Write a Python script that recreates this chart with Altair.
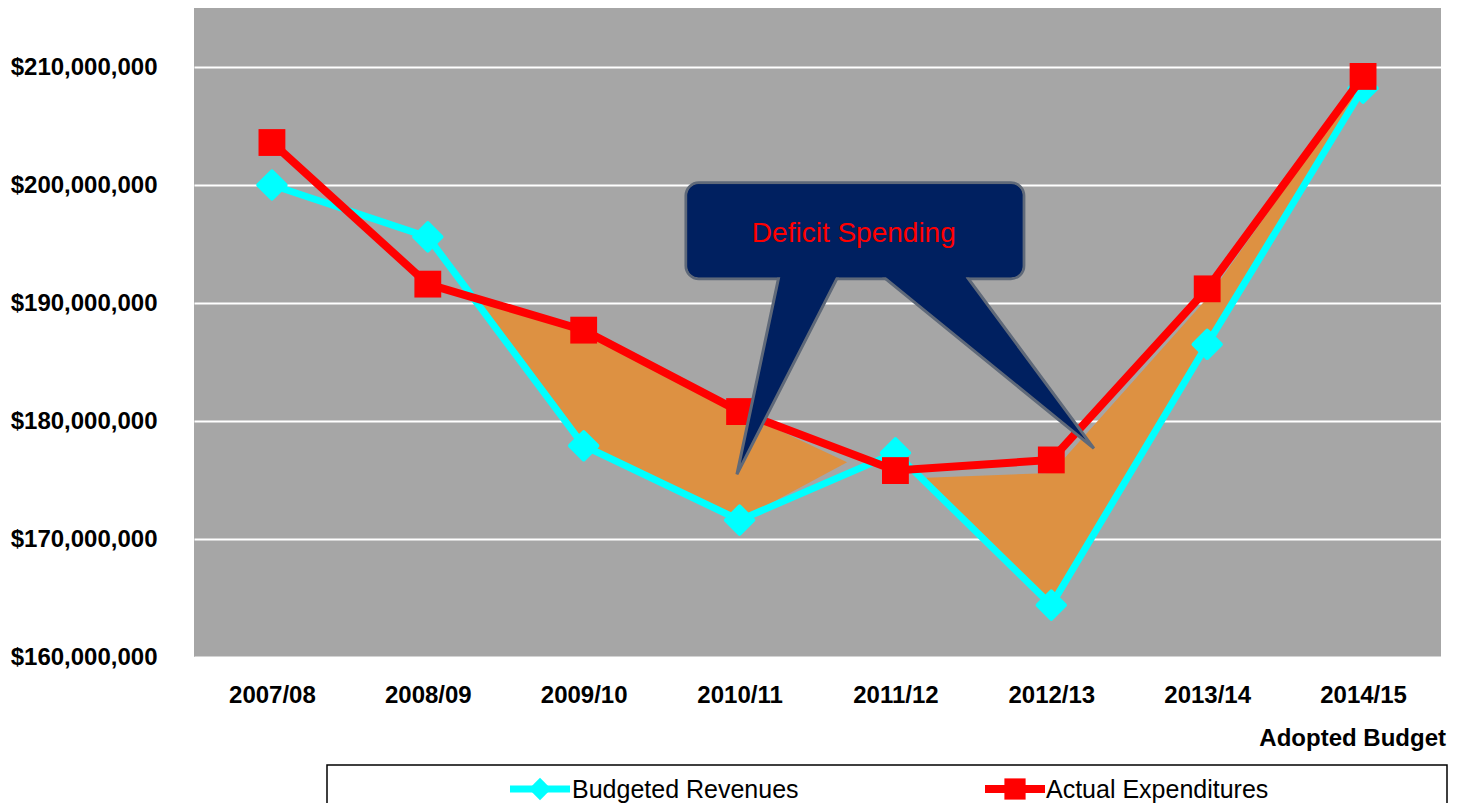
import altair as alt
import pandas as pd

# ---------------- data ($ millions) ----------------
years = ["2007/08", "2008/09", "2009/10", "2010/11", "2011/12", "2012/13", "2013/14", "2014/15"]
revenues = [200.0, 195.6, 177.9, 171.6, 177.3, 164.4, 186.5, 208.2]
expenditures = [203.6, 191.6, 187.7, 180.8, 175.8, 176.7, 191.2, 209.2]
y_ticks = [160, 170, 180, 190, 200, 210]

# deficit shading (two freeform regions between the lines)
def1_x = [1.29, 2.0, 3.0, 3.69]
def1_top = [190.47, 187.7, 180.8, 176.5]
def1_bot = [190.47, 177.9, 171.6, 176.5]
def2_x = [4.2, 5.0, 6.0, 7.0]
def2_top = [175.2, 175.6, 190.4, 209.0]
def2_bot = [174.6, 164.4, 186.5, 208.2]

# callout (in data units)
box_x = [2.656, 4.824]
box_y = [200.19, 192.06]
ptr_id = ["a", "a", "a", "b", "b", "b"]
ptr_ord = [0, 1, 2, 0, 1, 2]
ptr_x = [3.252, 2.983, 3.631, 3.920, 5.273, 4.458]
ptr_y = [192.23, 175.48, 192.23, 192.23, 177.68, 192.23]
callout_text = "Deficit Spending"
callout_pos = [3.733, 195.87]

FONT = "Liberation Sans, Arial, sans-serif"
W, H = 1247, 649
NAVY = "#002060"
EDGE = "#5F6979"
ORANGE = "#DD9142"

df = pd.DataFrame({"i": list(range(len(years))), "rev": revenues, "exp": expenditures})
d1 = pd.DataFrame({"x": def1_x, "top": def1_top, "bot": def1_bot})
d2 = pd.DataFrame({"x": def2_x, "top": def2_top, "bot": def2_bot})
box = pd.DataFrame({"x": [box_x[0]], "x2": [box_x[1]], "y": [box_y[0]], "y2": [box_y[1]]})
ptr = pd.DataFrame({"id": ptr_id, "o": ptr_ord, "x": ptr_x, "y": ptr_y})
txt = pd.DataFrame({"x": [callout_pos[0]], "y": [callout_pos[1]], "t": [callout_text]})
one = pd.DataFrame({"k": [0]})

label_arr = "[" + ",".join("'%s'" % y for y in years) + "]"

xscale = alt.Scale(domain=[-0.5, len(years) - 0.5], nice=False, zero=False)
yscale = alt.Scale(domain=[160, 215], nice=False, zero=False)
xaxis = alt.Axis(values=list(range(len(years))), labelExpr=label_arr + "[datum.value]",
                 grid=False, domain=False, ticks=False, labelPadding=26,
                 labelFont=FONT, labelFontSize=24, labelFontWeight="bold", labelColor="black",
                 labelFlush=False, labelOverlap=False, labelLimit=400, title=None)
yaxis = alt.Axis(values=y_ticks, labelExpr="'$' + format(datum.value * 1000000, ',')",
                 grid=True, gridColor="white", gridWidth=2, domain=False, ticks=False,
                 labelPadding=37, labelFont=FONT, labelFontSize=24, labelFontWeight="bold",
                 labelColor="black", labelLimit=400, title=None)


def X(f):
    return alt.X(f, type="quantitative", scale=xscale, axis=xaxis)


def Y(f):
    return alt.Y(f, type="quantitative", scale=yscale, axis=yaxis)


area1 = alt.Chart(d1).mark_area(color=ORANGE).encode(x=X("x"), y=Y("top"), y2="bot")
area2 = alt.Chart(d2).mark_area(color=ORANGE).encode(x=X("x"), y=Y("top"), y2="bot")

rev_line = alt.Chart(df).mark_line(color="#00FFFF", strokeWidth=7).encode(x=X("i"), y=Y("rev"))
rev_pts = alt.Chart(df).mark_point(shape="diamond", filled=True, color="#00FFFF", size=750,
                                   stroke="#00FFFF", strokeWidth=4, strokeJoin="round",
                                   opacity=1).encode(x=X("i"), y=Y("rev"))
exp_line = alt.Chart(df).mark_line(color="#FF0000", strokeWidth=8).encode(x=X("i"), y=Y("exp"))
exp_pts = alt.Chart(df).mark_point(shape="square", filled=True, color="#FF0000", size=720,
                                   opacity=1).encode(x=X("i"), y=Y("exp"))

box_outer = alt.Chart(box).mark_rect(fill=NAVY, stroke=EDGE, strokeWidth=3, cornerRadius=13).encode(
    x=X("x"), x2="x2", y=Y("y"), y2="y2")
pointers = alt.Chart(ptr).mark_line(fill=NAVY, stroke=EDGE, strokeWidth=3, strokeJoin="miter").encode(
    x=X("x"), y=Y("y"), order="o:Q", detail="id:N")
box_inner = alt.Chart(box).mark_rect(fill=NAVY, cornerRadius=11, xOffset=1.5, x2Offset=-1.5,
                                     yOffset=1.5, y2Offset=-1.5).encode(
    x=X("x"), x2="x2", y=Y("y"), y2="y2")
box_text = alt.Chart(txt).mark_text(font=FONT, fontSize=28, color="#FF0000", align="center",
                                    baseline="middle").encode(x=X("x"), y=Y("y"), text="t:N")

adopted = alt.Chart(one).mark_text(text="Adopted Budget", font=FONT, fontSize=24, fontWeight="bold",
                                   color="black", align="right", baseline="middle").encode(
    x=alt.value(1252), y=alt.value(731))

# legend (below the chart)
leg_box = alt.Chart(one).mark_rect(fill="white", stroke="black", strokeWidth=1.5).encode(
    x=alt.value(133), x2=alt.value(1253), y=alt.value(757), y2=alt.value(830))
leg_rev_line = alt.Chart(one).mark_rule(color="#00FFFF", strokeWidth=7).encode(
    x=alt.value(316), x2=alt.value(376), y=alt.value(781))
leg_rev_pt = alt.Chart(one).mark_point(shape="diamond", filled=True, color="#00FFFF", size=500,
                                       opacity=1).encode(x=alt.value(346), y=alt.value(781))
leg_rev_txt = alt.Chart(one).mark_text(text="Budgeted Revenues", font=FONT, fontSize=25,
                                       color="black", align="left", baseline="middle").encode(
    x=alt.value(378), y=alt.value(782))
leg_exp_line = alt.Chart(one).mark_rule(color="#FF0000", strokeWidth=8).encode(
    x=alt.value(791), x2=alt.value(851), y=alt.value(781))
leg_exp_pt = alt.Chart(one).mark_point(shape="square", filled=True, color="#FF0000", size=450,
                                       opacity=1).encode(x=alt.value(821), y=alt.value(781))
leg_exp_txt = alt.Chart(one).mark_text(text="Actual Expenditures", font=FONT, fontSize=25,
                                       color="black", align="left", baseline="middle").encode(
    x=alt.value(852), y=alt.value(782))

chart = alt.layer(
    area1, area2, rev_line, rev_pts, exp_line, exp_pts,
    box_outer, pointers, box_inner, box_text, adopted,
    leg_box, leg_rev_line, leg_rev_pt, leg_rev_txt, leg_exp_line, leg_exp_pt, leg_exp_txt,
).properties(
    width=W, height=H,
    autosize=alt.AutoSizeParams(type="none"),
    padding={"left": 186, "top": 0, "right": 8, "bottom": 146},
).configure_view(fill="#A6A6A6", stroke=None)

chart.save("out.html", embed_options={"renderer": "svg", "actions": False})
